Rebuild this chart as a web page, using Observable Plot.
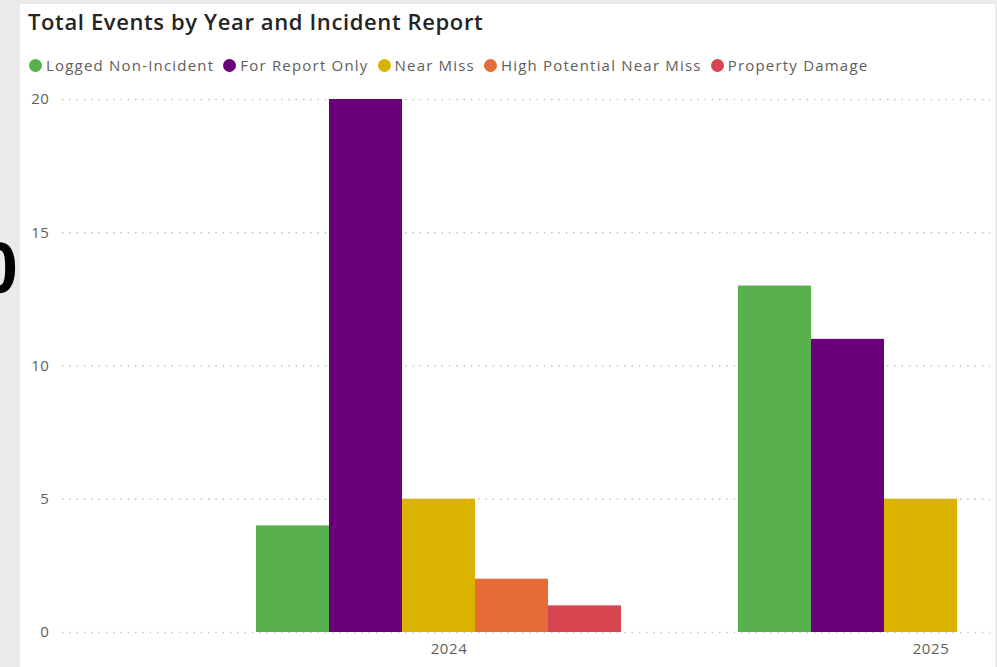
<!DOCTYPE html>
<html>
<head>
<meta charset="utf-8">
<script src="https://cdn.jsdelivr.net/npm/d3@7"></script>
<script src="https://cdn.jsdelivr.net/npm/@observablehq/plot@0.6"></script>
<style>
  html, body { margin: 0; padding: 0; }
  body { width: 997px; height: 667px; overflow: hidden; background: #ebebeb; position: relative; font-family: "Open Sans", sans-serif; }
  #panel { position: absolute; left: 20px; top: 4px; width: 975px; height: 663px; background: #ffffff; }
  #bigzero { position: absolute; left: -22px; top: 232px; font: bold 72px/72px "Liberation Sans", Arial, sans-serif; color: #000; }
  #title { position: absolute; left: 28px; top: 7px; font-size: 22px; letter-spacing: 0.62px; font-weight: 600; color: #252423; white-space: nowrap; line-height: 28px; }
  #legend { position: absolute; left: 29px; top: 54px; display: flex; align-items: center; font-size: 15px; letter-spacing: 1.2px; color: #605e5c; white-space: nowrap; line-height: 22px; }
  .item { display: flex; align-items: center; margin-right: 9px; }
  .dot { width: 13px; height: 13px; border-radius: 50%; margin-right: 4px; }
  #chart { position: absolute; left: 0; top: 80px; }
  #chart svg text { letter-spacing: 0.6px; }
</style>
</head>
<body>
<div id="bigzero">0</div>
<div id="panel"></div>
<div id="title">Total Events by Year and Incident Report</div>
<div id="legend"></div>
<div id="chart"></div>
<script>
const years = [2024, 2025];
const categories = ["Logged Non-Incident", "For Report Only", "Near Miss", "High Potential Near Miss", "Property Damage"];
const colors = ["#57b04c", "#6b007b", "#d9b300", "#e66c37", "#d64550"];
const values2024 = [4, 20, 5, 2, 1];
const values2025 = [13, 11, 5, null, null];
const yTicks = [0, 5, 10, 15, 20];

const seriesByYear = {2024: values2024, 2025: values2025};
const data = [];
for (const yr of years) {
  categories.forEach((c, i) => {
    const v = seriesByYear[yr][i];
    if (v != null) data.push({year: yr, category: c, value: v});
  });
}

// legend
const legend = document.getElementById("legend");
categories.forEach((c, i) => {
  const it = document.createElement("div");
  it.className = "item";
  const dot = document.createElement("div");
  dot.className = "dot";
  dot.style.background = colors[i];
  const t = document.createElement("span");
  t.textContent = c;
  it.appendChild(dot); it.appendChild(t);
  legend.appendChild(it);
});

const xOpts = {type: "band", domain: years, range: [256, 1103], paddingInner: 117 / 482, paddingOuter: 0, round: false};
const xs = Plot.scale({x: xOpts});
const w = xs.bandwidth / categories.length;

const chart = Plot.plot({
  width: 997,
  height: 587,
  marginLeft: 62,
  marginRight: 7,
  marginTop: 19,
  marginBottom: 35,
  style: {fontFamily: "Open Sans, sans-serif", fontSize: "15px", color: "#605e5c", background: "transparent", overflow: "visible"},
  x: xOpts,
  y: {domain: [0, 20], label: null},
  color: {domain: categories, range: colors},
  marks: [
    Plot.gridY(yTicks, {stroke: "#c4c4c4", strokeOpacity: 1, strokeWidth: 1.5, strokeDasharray: "1.5,5.8"}),
    ...categories.map((c, i) => Plot.barY(data.filter(d => d.category === c), {
      x: "year", y: "value", fill: "category",
      insetLeft: i * w, insetRight: (categories.length - 1 - i) * w
    })),
    Plot.axisY(yTicks, {tickSize: 0, tickPadding: 13, label: null}),
    Plot.axisX({tickSize: 0, tickPadding: 11, dx: 10, label: null, tickFormat: d => String(d)})
  ]
});
document.getElementById("chart").appendChild(chart);
</script>
</body>
</html>
